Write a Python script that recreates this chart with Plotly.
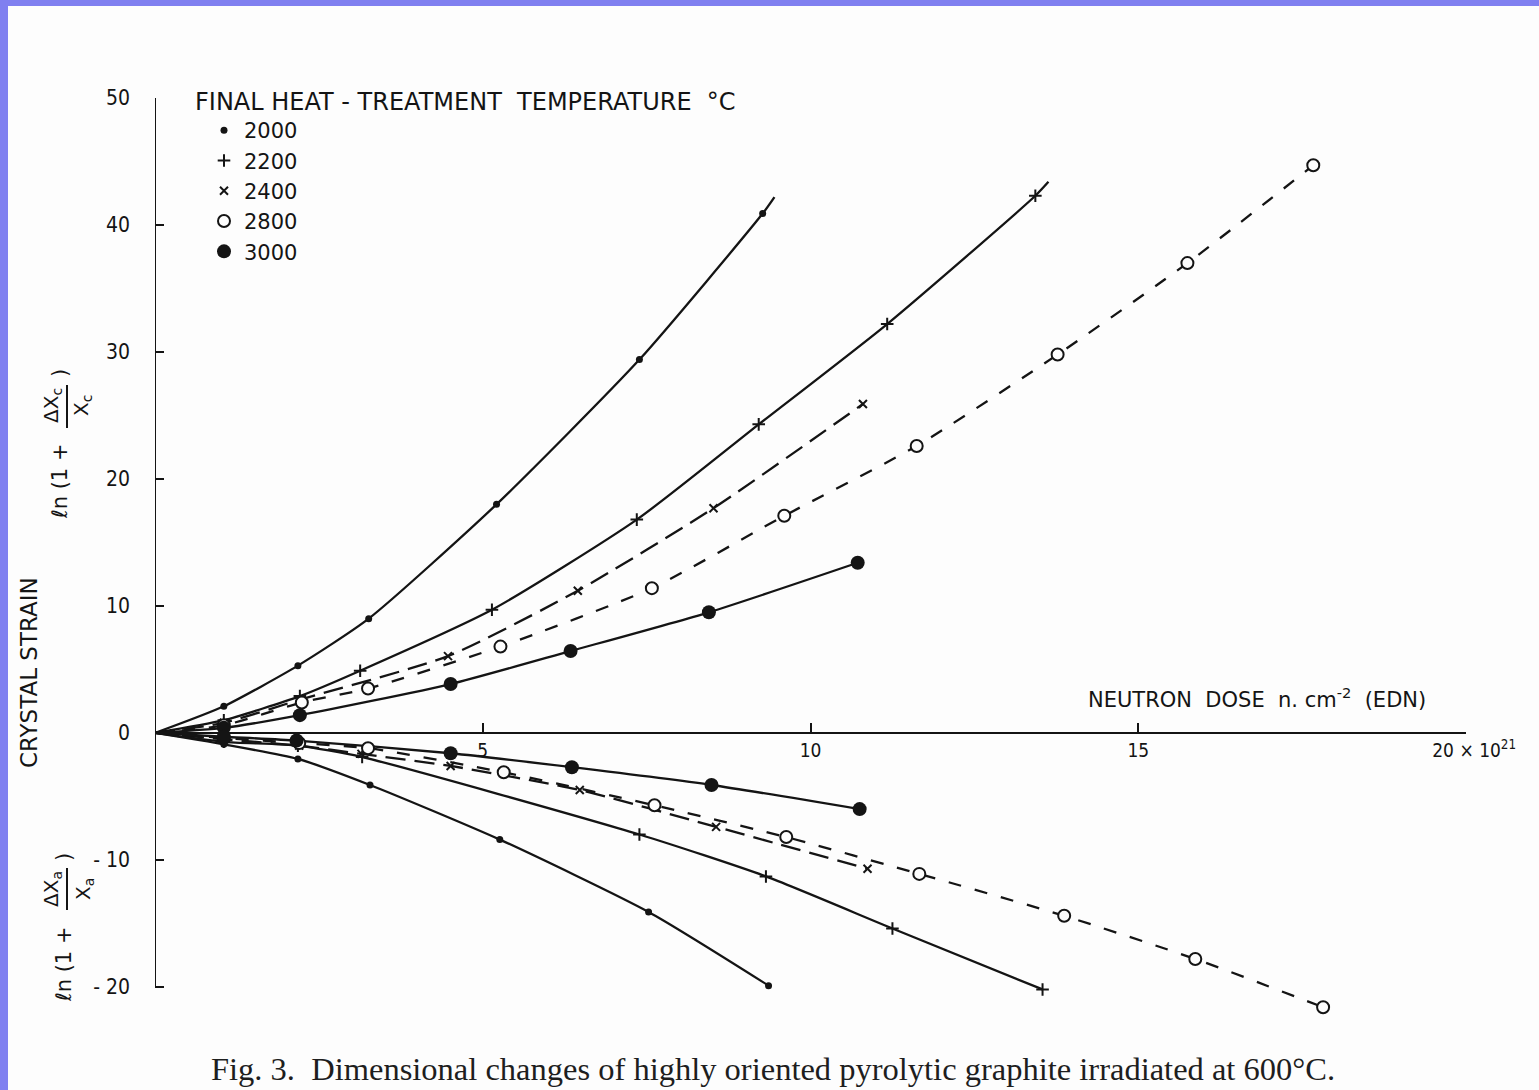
import plotly.graph_objects as go

# ---------------- data ----------------
temps = ["2000", "2200", "2400", "2800", "3000"]

# c-axis (upper, ln(1+dXc/Xc))
c_x = {
    "2000": [1.05, 2.18, 3.26, 5.21, 7.39, 9.27],
    "2200": [1.05, 2.21, 3.13, 5.14, 7.35, 9.21, 11.17, 13.43],
    "2400": [1.05, 2.20, 4.47, 6.45, 8.52, 10.80],
    "2800": [1.05, 2.24, 3.25, 5.27, 7.58, 9.60, 11.62, 13.77, 15.75, 17.67],
    "3000": [1.05, 2.21, 4.51, 6.34, 8.45, 10.72],
}
c_y = {
    "2000": [2.1, 5.3, 9.0, 18.0, 29.4, 40.9],
    "2200": [1.0, 2.9, 4.9, 9.7, 16.8, 24.3, 32.2, 42.3],
    "2400": [0.8, 2.6, 6.05, 11.2, 17.7, 25.9],
    "2800": [0.6, 2.4, 3.5, 6.8, 11.4, 17.1, 22.6, 29.8, 37.0, 44.7],
    "3000": [0.4, 1.4, 3.85, 6.45, 9.5, 13.4],
}
# fitted curve extends slightly past the last point for some series
c_end = {"2000": (9.45, 42.2), "2200": (13.63, 43.4)}

# a-axis (lower, ln(1+dXa/Xa))
a_x = {
    "2000": [1.05, 2.18, 3.28, 5.26, 7.53, 9.36],
    "2200": [1.05, 2.18, 3.16, 7.39, 9.32, 11.25, 13.54],
    "2400": [1.05, 2.20, 3.15, 4.51, 6.48, 8.56, 10.87],
    "2800": [1.05, 2.20, 3.25, 5.32, 7.62, 9.63, 11.66, 13.87, 15.87, 17.82],
    "3000": [1.05, 2.16, 4.51, 6.36, 8.49, 10.75],
}
a_y = {
    "2000": [-0.9, -2.05, -4.1, -8.4, -14.1, -19.9],
    "2200": [-0.7, -1.0, -1.9, -8.0, -11.3, -15.4, -20.2],
    "2400": [-0.5, -1.0, -1.65, -2.6, -4.5, -7.4, -10.7],
    "2800": [-0.4, -0.8, -1.2, -3.1, -5.7, -8.2, -11.1, -14.4, -17.8, -21.6],
    "3000": [-0.3, -0.6, -1.6, -2.7, -4.1, -6.0],
}

x_tick_vals = [5, 10, 15, 20]
x_tick_text = ["5", "10", "15", "\u00a0\u00a0\u00a020 \u00d7 10<sup>21</sup>"]
y_tick_vals = [-20, -10, 0, 10, 20, 30, 40, 50]
y_tick_text = ["- 20", "- 10", "0", "10", "20", "30", "40", "50"]

# ---------------- styles ----------------
INK = "#141414"
BG = "#fdfdfd"
CF = "DejaVu Sans Condensed, Liberation Sans Narrow, sans-serif"
WF = "DejaVu Sans, Verdana, sans-serif"
dash_style = {"2000": "solid", "2200": "solid", "2400": "20px,9px",
              "2800": "13px,14px", "3000": "solid"}
marker_style = {
    "2000": dict(symbol="circle", size=7, color=INK),
    "2200": dict(symbol="cross-thin", size=9, color=INK, line=dict(width=2, color=INK)),
    "2400": dict(symbol="x-thin", size=8, color=INK, line=dict(width=2, color=INK)),
    "2800": dict(symbol="circle", size=12, color=BG, line=dict(width=2, color=INK)),
    "3000": dict(symbol="circle", size=14, color=INK),
}

fig = go.Figure()

for t in temps:
    for xs, ys, end in ((c_x[t], c_y[t], c_end.get(t)), (a_x[t], a_y[t], None)):
        lx = [0] + xs + ([end[0]] if end else [])
        ly = [0] + ys + ([end[1]] if end else [])
        fig.add_trace(go.Scatter(
            x=lx, y=ly, mode="lines", showlegend=False, hoverinfo="skip",
            line=dict(color=INK, width=2.3, dash=dash_style[t], shape="spline", smoothing=0.6),
        ))

for t in temps:
    fig.add_trace(go.Scatter(
        x=c_x[t] + a_x[t], y=c_y[t] + a_y[t], mode="markers", name=t,
        legendgroup=t, marker=marker_style[t],
    ))

# plot-area pixel geometry helpers for paper coords
L, R, T, B = 155, 1466, 98, 1025
W, H = R - L, B - T
def px(x):
    return (x - L) / W
def py(y):
    return (B - y) / H

Y0, Y1 = -23, 50
fig.update_layout(
    width=1539, height=1090,
    margin=dict(l=L, r=1539 - R, t=T, b=1090 - B),
    paper_bgcolor=BG, plot_bgcolor=BG,
    font=dict(family=CF, color=INK, size=20),
    xaxis=dict(range=[0, 20], anchor="free", position=(0 - Y0) / (Y1 - Y0),
               showgrid=False, zeroline=False, showline=True, linecolor=INK, linewidth=2,
               ticks="inside", ticklen=9, tickwidth=2, tickcolor=INK,
               tickvals=x_tick_vals, ticktext=x_tick_text,
               tickfont=dict(size=19, family=CF, color=INK)),
    yaxis=dict(range=[Y0, Y1], showgrid=False, zeroline=False, showline=False,
               ticks="inside", ticklen=9, tickwidth=2, tickcolor=INK,
               tickvals=y_tick_vals, ticktext=y_tick_text, ticklabelstandoff=24,
               tickfont=dict(size=21, family=CF, color=INK)),
    legend=dict(x=px(204), y=py(110), xanchor="left", yanchor="top",
                bgcolor="rgba(0,0,0,0)", font=dict(size=21, family=WF, color=INK),
                tracegroupgap=0, itemwidth=30),
    showlegend=True,
)

fig.add_shape(type="line", xref="x", yref="y", x0=0, x1=0, y0=-20, y1=50,
              line=dict(color=INK, width=2))

# lavender frame
LAV = "#8080f0"
fig.add_shape(type="rect", xref="paper", yref="paper", x0=px(0), x1=px(1539),
              y0=py(6), y1=py(0), fillcolor=LAV, line=dict(width=0), layer="above")
fig.add_shape(type="rect", xref="paper", yref="paper", x0=px(0), x1=px(8),
              y0=py(1090), y1=py(0), fillcolor=LAV, line=dict(width=0), layer="above")

# fraction bars of the y-axis labels
for yb0, yb1 in ((385, 428), (868, 910)):
    fig.add_shape(type="line", xref="paper", yref="paper", x0=px(67), x1=px(67),
                  y0=py(yb0), y1=py(yb1), line=dict(color=INK, width=2))

NB = "\u00a0"
ann = [
    dict(text="FINAL HEAT - TREATMENT" + NB * 2 + "TEMPERATURE" + NB * 2 + "\u00b0C",
         x=px(193), y=py(102), xanchor="left", yanchor="middle", font=dict(size=24, family=WF)),
    dict(text="NEUTRON" + NB * 2 + "DOSE" + NB * 2 + "n." + NB + "cm<sup>-2</sup>" + NB * 2 + "(EDN)",
         x=px(1257), y=py(698), xanchor="center", yanchor="middle", font=dict(size=21, family=WF)),
    dict(text="CRYSTAL" + NB + "STRAIN", x=px(29), y=py(673), textangle=-90,
         xanchor="center", yanchor="middle", font=dict(size=23, family=WF)),
    # upper label: ln (1 + dXc/Xc)
    dict(text="\u2113n (1 +", x=px(60), y=py(482), textangle=-90,
         xanchor="center", yanchor="middle", font=dict(size=21, family=WF)),
    dict(text="\u0394X<sub>c</sub>", x=px(52), y=py(406), textangle=-90,
         xanchor="center", yanchor="middle", font=dict(size=20, family=WF)),
    dict(text="X<sub>c</sub>", x=px(82), y=py(406), textangle=-90,
         xanchor="center", yanchor="middle", font=dict(size=20, family=WF)),
    dict(text=")", x=px(60), y=py(373), textangle=-90,
         xanchor="center", yanchor="middle", font=dict(size=21, family=WF)),
    # lower label: ln (1 + dXa/Xa)
    dict(text="\u2113n (1 +", x=px(64), y=py(965), textangle=-90,
         xanchor="center", yanchor="middle", font=dict(size=21, family=WF)),
    dict(text="\u0394X<sub>a</sub>", x=px(52), y=py(889), textangle=-90,
         xanchor="center", yanchor="middle", font=dict(size=20, family=WF)),
    dict(text="X<sub>a</sub>", x=px(84), y=py(889), textangle=-90,
         xanchor="center", yanchor="middle", font=dict(size=20, family=WF)),
    dict(text=")", x=px(64), y=py(857), textangle=-90,
         xanchor="center", yanchor="middle", font=dict(size=21, family=WF)),
    dict(text="Fig. 3.  Dimensional changes of highly oriented pyrolytic graphite irradiated at 600\u00b0C.",
         x=px(773), y=py(1069), xanchor="center", yanchor="middle",
         font=dict(size=32.5, family="Liberation Serif, serif", color="#1e1e1e")),
]
for a in ann:
    a.update(xref="paper", yref="paper", showarrow=False)
    fig.add_annotation(**a)

fig.write_html("out.html", config={"displayModeBar": False},
               post_script="document.body.style.margin='0';document.body.style.background='%s';" % BG)
